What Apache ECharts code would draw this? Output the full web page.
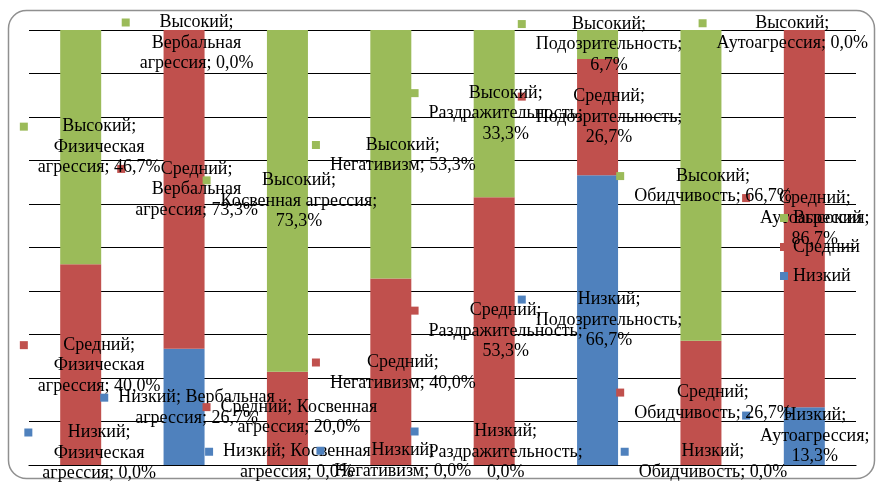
<!DOCTYPE html>
<html>
<head>
<meta charset="utf-8">
<script src="https://cdn.jsdelivr.net/npm/echarts@6/dist/echarts.min.js"></script>
<style>
  html, body { margin: 0; padding: 0; background: #fff; }
  #chart { width: 877px; height: 482px; }
</style>
</head>
<body>
<div id="chart"></div>
<script>
// Шкалы агрессии (категории) и уровни выраженности
const categories = [
  'Физическая агрессия', 'Вербальная агрессия', 'Косвенная агрессия', 'Негативизм',
  'Раздражительность', 'Подозрительность', 'Обидчивость', 'Аутоагрессия'
];
const levels = ['Низкий', 'Средний', 'Высокий'];

// Доля испытуемых, %
const lowValues  = [0.0, 26.7, 0.0, 0.0, 0.0, 66.7, 0.0, 13.3];
const midValues  = [40.0, 73.3, 20.0, 40.0, 53.3, 26.7, 26.7, 86.7];
const highValues = [46.7, 0.0, 73.3, 53.3, 33.3, 6.7, 66.7, 0.0];

const raw = [lowValues, midValues, highValues];
const colors = ['#4F81BD', '#C0504D', '#9BBB59'];
const FONT = 'Liberation Serif';

// Columns are 100% stacked: each segment is its share of the column total
const totals = categories.map((_, c) => raw.reduce((sum, arr) => sum + arr[c], 0));

// Words per line for each data label, [level][category]
const wrap = [
  [[1,1,2],[2,2],[2,2],[1,2],[1,1,1],[1,1,1],[1,2],[1,1,1]],
  [[1,1,2],[1,1,2],[2,2],[1,2],[1,1,1],[1,1,1],[1,2],[1,1,1]],
  [[1,1,2],[1,1,2],[1,2,1],[1,2],[1,1,1],[1,1,1],[1,2],[1,2]]
];

// Label nudges (px) from the segment centre, [level][category]
const labelShift = [
  [[9.5,-12],[3.5,1],[0.5,-3],[3,-4],[2.5,-13],[2.5,0],[3,-3],[1.5,0]],
  [[9.5,1],[3.5,0],[2.5,-1],[3,1],[2.5,0],[2.5,0],[3,0],[1.5,0]],
  [[9.5,0],[3.5,13],[2.5,0],[3,1],[2.5,0],[2.5,0],[3,1],[-21,3.5]]
];

function pct(v) {
  return v.toFixed(1).replace('.', ',') + '%';
}

// "Уровень; Категория; значение" with a legend key in front of the first line
function labelText(s, c) {
  const catWords = categories[c].split(' ');
  catWords[catWords.length - 1] += ';';
  const words = [levels[s] + ';'].concat(catWords, [pct(raw[s][c])]);
  const lines = [];
  let i = 0;
  wrap[s][c].forEach((n, li) => {
    const txt = words.slice(i, i + n).join(' ');
    i += n;
    lines.push((li === 0 ? '{k' + s + '|}{g|}' : '{p|}') + '{t|' + txt + '}');
  });
  return lines.join('\n');
}

const rich = {
  k0: { width: 8, height: 8, backgroundColor: colors[0], align: 'left' },
  k1: { width: 8, height: 8, backgroundColor: colors[1], align: 'left' },
  k2: { width: 8, height: 8, backgroundColor: colors[2], align: 'left' },
  g: { width: 10, align: 'left' },
  p: { width: 18, align: 'left' },
  t: { fontFamily: FONT, fontSize: 18, lineHeight: 20.5, color: '#000', align: 'center' }
};

const chart = echarts.init(document.getElementById('chart'));

chart.setOption({
  animation: false,
  backgroundColor: '#fff',
  grid: { left: 29, right: 21, top: 30, bottom: 17 },
  graphic: [{
    type: 'rect',
    silent: true,
    z: -10,
    shape: { x: 8.5, y: 10.5, width: 866, height: 468, r: 18 },
    style: { fill: 'none', stroke: '#909090', lineWidth: 1.5 }
  }],
  legend: {
    orient: 'vertical',
    left: 775,
    top: 203,
    itemWidth: 8,
    itemHeight: 8,
    itemGap: 9,
    icon: 'rect',
    data: ['Высокий', 'Средний', 'Низкий'],
    textStyle: { fontFamily: FONT, fontSize: 18, lineHeight: 20, color: '#000' },
    selectedMode: false
  },
  xAxis: {
    type: 'category',
    data: categories,
    axisLine: { lineStyle: { color: '#000', width: 1.2 } },
    axisTick: { show: false },
    axisLabel: { show: false }
  },
  yAxis: {
    type: 'value',
    min: 0,
    max: 100,
    interval: 10,
    axisLine: { show: false },
    axisTick: { show: false },
    axisLabel: { show: false },
    splitLine: { lineStyle: { color: '#000', width: 1.2 } }
  },
  series: levels.map((name, s) => ({
    name: name,
    type: 'bar',
    stack: 'total',
    barWidth: 41,
    itemStyle: { color: colors[s] },
    emphasis: { disabled: true },
    label: {
      show: true,
      position: 'inside',
      color: '#000',
      textBorderWidth: 0,
      formatter: (p) => labelText(s, p.dataIndex),
      rich: rich
    },
    data: raw[s].map((v, c) => ({
      value: v / totals[c] * 100,
      label: { offset: labelShift[s][c] }
    }))
  }))
});
</script>
</body>
</html>
